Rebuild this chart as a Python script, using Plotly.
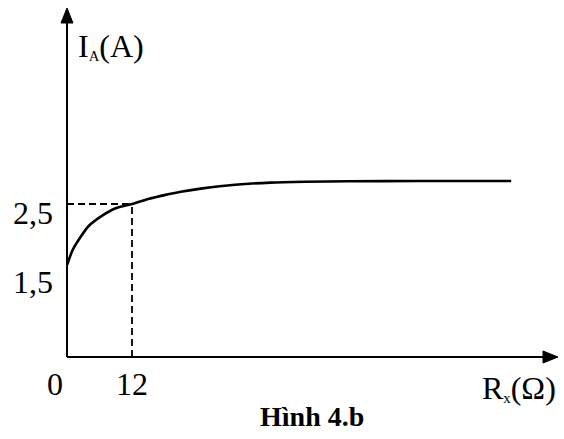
import plotly.graph_objects as go

# Data
R_values = [0, 1, 2.5, 4, 6.5, 9, 12, 15, 18, 21, 25, 31, 37.5, 44, 52, 65, 82]
I_values = [1.5, 1.74, 1.96, 2.14, 2.31, 2.43, 2.5, 2.58, 2.645, 2.70, 2.755, 2.815, 2.85, 2.864, 2.872, 2.875, 2.875]
marked_R = 12
marked_I = 2.5
y_tick_vals = [1.5, 2.5]
y_tick_text = ["1,5", "2,5"]
x_tick_vals = [0, 12]
x_tick_text = ["0", "12"]

W, H = 564, 439
x0_px, y0_px = 67, 357          # pixel position of origin
sx = 65 / 12                    # px per ohm
sy = 153 / 2.5                  # px per ampere

x_range = [-x0_px / sx, (W - x0_px) / sx]
y_range = [-(H - y0_px) / sy, y0_px / sy]

def dx(px):
    return px / sx

def dy(px):
    return px / sy

FONT = "Liberation Serif"
FS = 32
x_tip = dx(558 - x0_px)
y_tip = dy(y0_px - 8)

fig = go.Figure()
fig.add_trace(go.Scatter(
    x=R_values, y=I_values, mode="lines",
    line=dict(color="black", width=2.6, shape="spline", smoothing=0.6),
    hoverinfo="skip", showlegend=False))

shapes = []
# axes
shapes.append(dict(type="line", x0=0, y0=0, x1=x_tip - dx(10), y1=0,
                   line=dict(color="black", width=2)))
shapes.append(dict(type="line", x0=0, y0=0, x1=0, y1=y_tip - dy(10),
                   line=dict(color="black", width=2)))
# arrow heads
shapes.append(dict(type="path",
                   path=f"M {x_tip} 0 L {x_tip - dx(15)} {dy(6)} L {x_tip - dx(15)} {-dy(6)} Z",
                   fillcolor="black", line=dict(color="black", width=1)))
shapes.append(dict(type="path",
                   path=f"M 0 {y_tip} L {dx(6)} {y_tip - dy(15)} L {-dx(6)} {y_tip - dy(15)} Z",
                   fillcolor="black", line=dict(color="black", width=1)))
# dashed guides
shapes.append(dict(type="line", x0=0, y0=marked_I, x1=marked_R, y1=marked_I,
                   line=dict(color="black", width=1.8, dash="7px,4px")))
shapes.append(dict(type="line", x0=marked_R, y0=0, x1=marked_R, y1=marked_I,
                   line=dict(color="black", width=1.8, dash="7px,4px")))

annotations = []
y_shifts = [-17, -9]
for v, t, s in zip(y_tick_vals, y_tick_text, y_shifts):
    annotations.append(dict(x=0, y=v, text=t, showarrow=False, xanchor="right",
                            yanchor="middle", xshift=-12, yshift=s,
                            font=dict(family=FONT, size=FS, color="black")))
x_shifts = [-12, 0]
for v, t, s in zip(x_tick_vals, x_tick_text, x_shifts):
    annotations.append(dict(x=v, y=0, text=t, showarrow=False, xanchor="center",
                            yanchor="middle", xshift=s, yshift=-27,
                            font=dict(family=FONT, size=FS, color="black")))
annotations.append(dict(x=0, y=y_range[1], text="I<span style='font-size:21px'><sub>A</sub></span>(A)",
                        showarrow=False, xanchor="left", yanchor="middle", xshift=9, yshift=-46,
                        font=dict(family=FONT, size=FS, color="black")))
annotations.append(dict(x=x_range[1], y=0, text="R<span style='font-size:21px'><sub>x</sub></span>(Ω)",
                        showarrow=False, xanchor="right", yanchor="middle", xshift=-6, yshift=-31,
                        font=dict(family=FONT, size=FS, color="black")))
annotations.append(dict(x=0.553, y=0, xref="paper", yref="paper", text="<b>Hình 4.b</b>",
                        showarrow=False, xanchor="center", yanchor="middle", yshift=23,
                        font=dict(family=FONT, size=28, color="black")))

fig.update_layout(
    width=W, height=H,
    margin=dict(l=0, r=0, t=0, b=0),
    paper_bgcolor="white", plot_bgcolor="white",
    xaxis=dict(range=x_range, visible=False, fixedrange=True),
    yaxis=dict(range=y_range, visible=False, fixedrange=True),
    shapes=shapes, annotations=annotations,
)

fig.write_html("out.html", config={"displayModeBar": False},
               post_script="document.body.style.margin='0';document.body.style.overflow='hidden';")
